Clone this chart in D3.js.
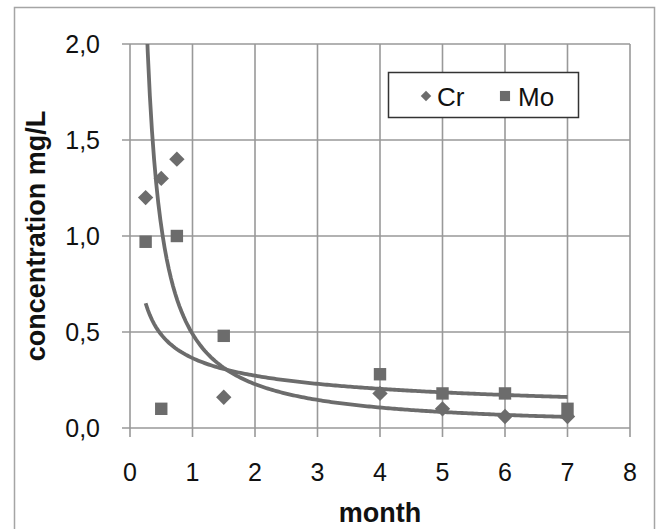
<!DOCTYPE html>
<html>
<head>
<meta charset="utf-8">
<script src="https://cdn.jsdelivr.net/npm/d3@7"></script>
<style>
  body { margin: 0; background: #fff; }
  svg { display: block; font-family: Arial, "Liberation Sans", sans-serif; }
</style>
</head>
<body>
<div class="chart"></div>
<script>
// data
const months = [0.25, 0.5, 0.75, 1.5, 4, 5, 6, 7];
const crValues = [1.2, 1.3, 1.4, 0.16, 0.18, 0.1, 0.06, 0.06];
const moValues = [0.97, 0.1, 1.0, 0.48, 0.28, 0.18, 0.18, 0.1];
const xTicks = [0, 1, 2, 3, 4, 5, 6, 7, 8];
const yTicks = [0, 0.5, 1, 1.5, 2];
const seriesNames = ['Cr', 'Mo'];
// power trendlines y = a * x^b (coefficients estimated from the drawn curves)
const crTrend = [0.49, -1.1];
const moTrend = [0.364, -0.418];

const W = 658, H = 529;
const grey = '#6c6c6c';
const gridGrey = '#999';

const svg = d3.select('.chart')
  .append('svg')
  .attr('width', W)
  .attr('height', H);

// outer frame
svg.append('rect')
  .attr('x', 14.5).attr('y', 7.5)
  .attr('width', 640).attr('height', 540)
  .attr('fill', '#fff')
  .attr('stroke', '#a5a5a5')
  .attr('stroke-width', 1.5);

const x = d3.scaleLinear().domain([0, 8]).range([130, 630]);
const y = d3.scaleLinear().domain([0, 2]).range([428, 44]);

// clip for trendlines
svg.append('clipPath').attr('id', 'plot')
  .append('rect')
  .attr('x', x(0)).attr('y', y(2))
  .attr('width', x(8) - x(0)).attr('height', y(0) - y(2));

// grid
svg.append('g')
  .selectAll('line')
  .data(xTicks)
  .join('line')
  .attr('x1', d => x(d)).attr('x2', d => x(d))
  .attr('y1', y(2)).attr('y2', y(0) + 9)
  .attr('stroke', gridGrey).attr('stroke-width', 1.6);

svg.append('g')
  .selectAll('line')
  .data(yTicks)
  .join('line')
  .attr('x1', x(0) - 8).attr('x2', x(8))
  .attr('y1', d => y(d)).attr('y2', d => y(d))
  .attr('stroke', gridGrey).attr('stroke-width', 1.6);

// tick labels
svg.append('g')
  .selectAll('text')
  .data(yTicks)
  .join('text')
  .attr('x', 100)
  .attr('y', d => y(d) + 9)
  .attr('text-anchor', 'end')
  .attr('font-size', 25)
  .attr('fill', '#111')
  .text(d => d3.format('.1f')(d).replace('.', ','));

svg.append('g')
  .selectAll('text')
  .data(xTicks)
  .join('text')
  .attr('x', d => x(d))
  .attr('y', 481)
  .attr('text-anchor', 'middle')
  .attr('font-size', 25)
  .attr('fill', '#111')
  .text(d => d);

// axis titles
svg.append('text')
  .attr('x', x(4))
  .attr('y', 522)
  .attr('text-anchor', 'middle')
  .attr('font-size', 27)
  .attr('font-weight', 'bold')
  .attr('fill', '#111')
  .text('month');

svg.append('text')
  .attr('transform', `translate(45,${(y(0) + y(2)) / 2}) rotate(-90)`)
  .attr('text-anchor', 'middle')
  .attr('font-size', 27)
  .attr('font-weight', 'bold')
  .attr('fill', '#111')
  .text('concentration mg/L');

// trendlines
const line = d3.line()
  .x(d => x(d[0]))
  .y(d => y(d[1]));

function trendPoints(coef) {
  const x0 = d3.min(months), x1 = d3.max(months);
  return d3.range(0, 201).map(i => {
    const t = x0 + (x1 - x0) * i / 200;
    return [t, coef[0] * Math.pow(t, coef[1])];
  });
}

const trends = svg.append('g').attr('clip-path', 'url(#plot)');
[crTrend, moTrend].forEach(coef => {
  trends.append('path')
    .datum(trendPoints(coef))
    .attr('d', line)
    .attr('fill', 'none')
    .attr('stroke', grey)
    .attr('stroke-width', 3.8);
});

// markers
const diamond = d3.symbol().type(d3.symbolDiamond2);
const square = d3.symbol().type(d3.symbolSquare2);

svg.append('g')
  .selectAll('path')
  .data(months.map((m, i) => [m, crValues[i]]))
  .join('path')
  .attr('transform', d => `translate(${x(d[0])},${y(d[1])})`)
  .attr('d', diamond.size(150))
  .attr('fill', grey);

svg.append('g')
  .selectAll('path')
  .data(months.map((m, i) => [m, moValues[i]]))
  .join('path')
  .attr('transform', d => `translate(${x(d[0])},${y(d[1])})`)
  .attr('d', square.size(196))
  .attr('fill', grey);

// legend
const lg = svg.append('g');
lg.append('rect')
  .attr('x', 388.5).attr('y', 72.5)
  .attr('width', 190).attr('height', 45)
  .attr('fill', '#fff')
  .attr('stroke', '#333')
  .attr('stroke-width', 1.5);

lg.append('path')
  .attr('transform', 'translate(426,96)')
  .attr('d', diamond.size(70))
  .attr('fill', grey);
lg.append('text')
  .attr('x', 437).attr('y', 106)
  .attr('font-size', 26)
  .attr('fill', '#111')
  .text(seriesNames[0]);

lg.append('path')
  .attr('transform', 'translate(505,96)')
  .attr('d', square.size(130))
  .attr('fill', grey);
lg.append('text')
  .attr('x', 518).attr('y', 106)
  .attr('font-size', 26)
  .attr('fill', '#111')
  .text(seriesNames[1]);
</script>
</body>
</html>
